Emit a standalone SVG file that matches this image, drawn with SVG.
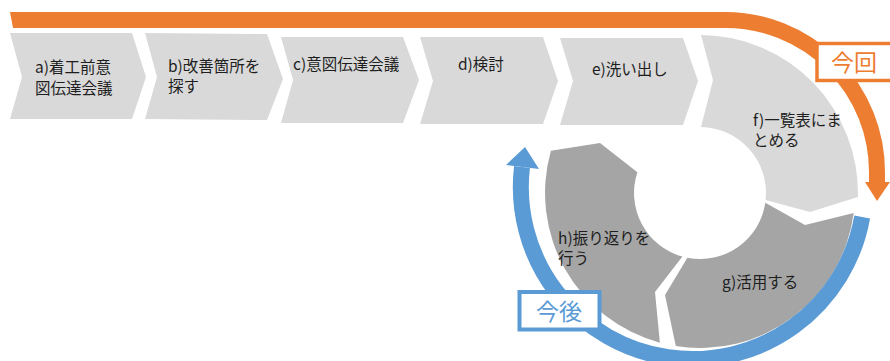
<svg xmlns="http://www.w3.org/2000/svg" width="890" height="361" viewBox="0 0 890 361">
  <style>
    .lite { fill: #d9d9d9; }
    .dark { fill: #a5a5a5; }
    .lbl { font-family: "Noto Sans CJK JP", "Liberation Sans", sans-serif; font-size: 15.5px; fill: #1e1e1e; }
    .org { fill: none; stroke: #ed7d31; stroke-width: 16; }
    .blu { fill: none; stroke: #5b9bd5; stroke-width: 16; }
    .tag { font-family: "Noto Sans CJK JP", "Liberation Sans", sans-serif; font-size: 23px; }
  </style>
  <rect width="890" height="361" fill="#ffffff"/>

  <g id="node-a">
    <polygon class="lite" points="10,33 132,33 146,77 132,119 10,119 22,77"/>
    <text class="lbl" x="35" y="73">a)着工前意</text>
    <text class="lbl" x="35" y="94">図伝達会議</text>
  </g>
  <g id="node-b">
    <polygon class="lite" points="145,33 267,34 283,79 267,120 145,119 157,77"/>
    <text class="lbl" x="168" y="72">b)改善箇所を</text>
    <text class="lbl" x="168" y="92">探す</text>
  </g>
  <g id="node-c">
    <polygon class="lite" points="281,37 403,37 419,80 403,123 281,123 293,80"/>
    <text class="lbl" x="293" y="70">c)意図伝達会議</text>
  </g>
  <g id="node-d">
    <polygon class="lite" points="420,37 543,37 558,81 543,124 420,124 433,81"/>
    <text class="lbl" x="458" y="70">d)検討</text>
  </g>
  <g id="node-e">
    <polygon class="lite" points="560,38 683,38 698,81 683,125 560,125 573,81"/>
    <text class="lbl" x="592" y="75">e)洗い出し</text>
  </g>
  <g id="node-f">
    <path class="lite" d="M701 35 L713 80 L701 127 A66 66 0 0 1 765.6 199.9 L810 212 L857.9 197.1 A158 158 0 0 0 701 35 Z"/>
    <text class="lbl" x="753" y="126">f)一覧表にま</text>
    <text class="lbl" x="753" y="146">とめる</text>
  </g>
  <g id="node-g">
    <path class="dark" d="M765.3 202.8 L805 225 L853.7 213 A155 155 0 0 1 675.8 346.1 L665 295 L687.4 257.8 A66 66 0 0 0 765.3 202.8 Z"/>
    <text class="lbl" x="722" y="288">g)活用する</text>
  </g>
  <g id="node-h">
    <path class="dark" d="M682.4 256.6 L655 292 L659.9 342.7 A155 155 0 0 1 550.9 150.8 L600 143 L637.4 172.2 A66 66 0 0 0 682.4 256.6 Z"/>
    <text class="lbl" x="558" y="244">h)振り返りを</text>
    <text class="lbl" x="558" y="264">行う</text>
  </g>

  <g id="connectors">
    <g id="arrow-konkai">
      <polygon fill="#ed7d31" points="10,12 726,12 726,28 13,28"/>
      <path class="org" d="M725 20 A152 152 0 0 1 877 172 V183"/>
      <polygon fill="#ed7d31" points="865,182 890,182 877,201"/>
    </g>
    <g id="arrow-kongo">
      <path class="blu" d="M862.2 217 A172 172 0 0 1 522 167"/>
      <polygon fill="#5b9bd5" points="506,165 539,169 525,147"/>
    </g>
  </g>

  <g id="label-konkai">
    <rect x="817" y="43.5" width="80" height="37" fill="#ffffff" stroke="#ed7d31" stroke-width="3.5"/>
    <text class="tag" x="831" y="71" fill="#ed7d31">今回</text>
  </g>
  <g id="label-kongo">
    <rect x="519.5" y="292" width="80" height="37.5" fill="#ffffff" stroke="#5b9bd5" stroke-width="4"/>
    <text class="tag" x="536" y="320" fill="#5b9bd5">今後</text>
  </g>
</svg>
